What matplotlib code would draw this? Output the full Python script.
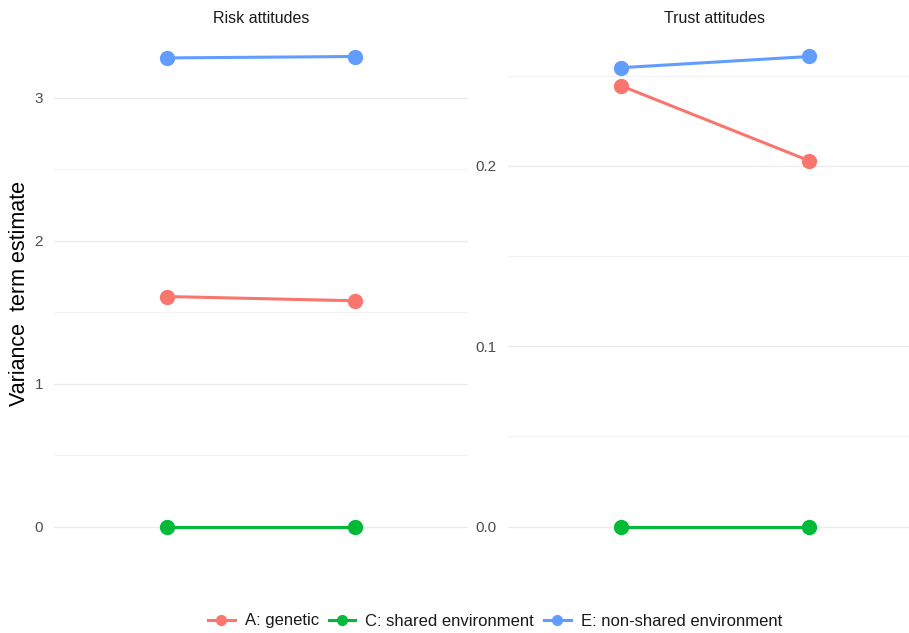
import matplotlib
matplotlib.use("Agg")
import matplotlib.pyplot as plt
from matplotlib.lines import Line2D

plt.rcParams['font.family'] = ['Liberation Sans', 'DejaVu Sans']

# ---- data ----
timepoints = ["T1", "T2"]
components = ["A: genetic", "C: shared environment", "E: non-shared environment"]
colors = ["#F8766D", "#00BA38", "#619CFF"]

risk_A = [1.61, 1.58]
risk_C = [0.0, 0.0]
risk_E = [3.28, 3.29]

trust_A = [0.2444, 0.2028]
trust_C = [0.0, 0.0]
trust_E = [0.2544, 0.2606]

panels = [
    ("Risk attitudes", [risk_A, risk_C, risk_E], [0, 1, 2, 3], ["0", "1", "2", "3"], [0.5, 1.5, 2.5]),
    ("Trust attitudes", [trust_A, trust_C, trust_E], [0.0, 0.1, 0.2], ["0.0", "0.1", "0.2"], [0.05, 0.15, 0.25]),
]

W, H = 909, 633
fig = plt.figure(figsize=(W / 100, H / 100), dpi=100)

axes_px = [(54, 414), (508, 414)]
top_px, bot_px = 33, 550
for (title, series, ticks, ticklabels, minor), (lpx, wpx) in zip(panels, axes_px):
    ax = fig.add_axes([lpx / W, (H - bot_px) / H, wpx / W, (bot_px - top_px) / H])
    xs = list(range(1, len(timepoints) + 1))
    for vals, c in zip(series, colors):
        ax.plot(xs, vals, color=c, lw=2.2, marker="o", ms=10, zorder=3, solid_capstyle="butt")
    allv = [v for s in series for v in s]
    lo, hi = min(allv), max(allv)
    pad = (hi - lo) * 0.05
    ax.set_ylim(lo - pad, hi + pad)
    ax.set_xlim(0.4, 2.6)
    ax.set_xticks([])
    ax.set_yticks(ticks)
    ax.set_yticklabels(ticklabels)
    ax.set_yticks(minor, minor=True)
    ax.grid(True, which="major", axis="y", color="#EBEBEB", lw=1.0)
    ax.grid(True, which="minor", axis="y", color="#F3F3F3", lw=0.8)
    ax.set_axisbelow(True)
    for s in ax.spines.values():
        s.set_visible(False)
    ax.tick_params(axis="y", which="both", length=0, labelsize=11, labelcolor="#4D4D4D", pad=8)
    ax.set_title(title, fontsize=11.5, color="#1A1A1A", pad=7)

fig.text(20 / W, 1 - 294 / H, "Variance  term estimate", rotation=90, fontsize=15.5,
         color="#000000", ha="center", va="center")

handles = [Line2D([0], [0], color=c, lw=2.2, marker="o", ms=7) for c in colors]
fig.legend(handles, components, loc="center", bbox_to_anchor=(495 / W, (H - 621) / H), ncol=3,
           frameon=False, fontsize=12, handlelength=1.6, handletextpad=0.6, columnspacing=0.6,
           labelcolor="#1A1A1A")

fig.savefig("out.png", dpi=100)
